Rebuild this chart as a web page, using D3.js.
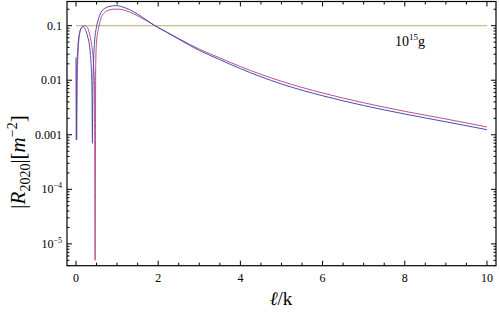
<!doctype html>
<html lang="en">
<head>
<meta charset="UTF-8">
<title>|R2020| vs l/k</title>
<script src="https://cdn.jsdelivr.net/npm/d3@7"></script>
<style>
  body { margin: 0; background: #fff; }
  text { font-family: "Liberation Serif", "DejaVu Serif", serif; fill: #000; }
</style>
</head>
<body>
<svg id="chart"></svg>
<script>
// values
const blueL   = [0, 0.008, 0.02, 0.05, 0.09, 0.13, 0.16, 0.2, 0.25, 0.29, 0.32, 0.35, 0.375, 0.39, 0.40, 0.41, 0.43, 0.45, 0.5, 0.55, 0.6, 0.7, 0.8, 0.97, 1.2, 1.4, 1.6, 1.92, 2.2, 2.5, 2.77, 3, 3.5, 4, 5, 6, 7, 8, 9, 10];
const blueV   = [0.026, 0.0008, 0.015, 0.045, 0.075, 0.092, 0.096, 0.092, 0.077, 0.06, 0.048, 0.03, 0.015, 0.006, 0.0007, 0.006, 0.025, 0.048, 0.095, 0.135, 0.17, 0.207, 0.224, 0.233, 0.212, 0.18, 0.145, 0.1, 0.076, 0.0565, 0.0435, 0.0352, 0.0238, 0.0163, 0.00853, 0.00519, 0.00344, 0.0024, 0.00173, 0.00124];
const pinkL   = [0.02, 0.03, 0.05, 0.08, 0.13, 0.2, 0.25, 0.3, 0.35, 0.39, 0.43, 0.45, 0.465, 0.48, 0.5, 0.55, 0.6, 0.7, 0.8, 0.9, 1.03, 1.2, 1.4, 1.6, 1.92, 2.2, 2.5, 2.77, 3, 3.5, 4, 5, 6, 7, 8, 9, 10];
const pinkV   = [0.0008, 0.01, 0.03, 0.065, 0.09, 0.1, 0.097, 0.085, 0.06, 0.04, 0.018, 0.008, 0.000005, 0.02, 0.05, 0.09, 0.13, 0.175, 0.193, 0.2, 0.201, 0.19, 0.165, 0.138, 0.1, 0.077, 0.058, 0.0452, 0.0372, 0.0256, 0.0178, 0.00955, 0.00583, 0.00386, 0.00269, 0.00195, 0.00139];
const refLevel = 0.1;
const refRange = [0, 10];
const xTicks = [0, 2, 4, 6, 8, 10];
const yTicks = [1e-5, 1e-4, 1e-3, 1e-2, 1e-1];
const yTickLabels = ["10", "10", "0.001", "0.01", "0.1"];
const yTickSups = ["\u22125", "\u22124", "", "", ""];

const width = 500, height = 313;
const pLeft = 67, pRight = 496, pTop = 1.5, pBottom = 265.7;

const svg = d3.select("#chart").attr("width", width).attr("height", height);

const x = d3.scaleLinear().domain([-0.219, 10.22]).range([pLeft, pRight]);
const y = d3.scaleLog().domain([Math.pow(10, -5.40), Math.pow(10, -0.557)]).range([pBottom, pTop]);

const plot = svg.append("g");

// reference line at 0.1
plot.append("line")
    .attr("x1", x(refRange[0])).attr("x2", x(refRange[1]))
    .attr("y1", y(refLevel)).attr("y2", y(refLevel))
    .attr("stroke", "#c8bb8c").attr("stroke-width", 1.3);

const line = d3.line()
    .x(d => x(d[0]))
    .y(d => y(d[1]))
    .curve(d3.curveMonotoneX);

plot.append("path")
    .datum(pinkL.map((l, i) => [l, pinkV[i]]))
    .attr("d", line)
    .attr("fill", "none").attr("stroke", "#b8508c").attr("stroke-width", 1);

plot.append("path")
    .datum(blueL.map((l, i) => [l, blueV[i]]))
    .attr("d", line)
    .attr("fill", "none").attr("stroke", "#4a4aae").attr("stroke-width", 1);

// frame
svg.append("rect")
    .attr("x", pLeft).attr("y", pTop)
    .attr("width", pRight - pLeft).attr("height", pBottom - pTop)
    .attr("fill", "none").attr("stroke", "#000").attr("stroke-width", 1.2);

// x ticks, pointing inwards on bottom and top
const xMinor = d3.range(0, 10.01, 0.5).filter(v => xTicks.indexOf(v) < 0);
const tk = svg.append("g").attr("stroke", "#000").attr("stroke-width", 1);
xTicks.forEach(v => {
  tk.append("line").attr("x1", x(v)).attr("x2", x(v)).attr("y1", pBottom).attr("y2", pBottom - 5);
  tk.append("line").attr("x1", x(v)).attr("x2", x(v)).attr("y1", pTop).attr("y2", pTop + 5);
});
xMinor.forEach(v => {
  tk.append("line").attr("x1", x(v)).attr("x2", x(v)).attr("y1", pBottom).attr("y2", pBottom - 3);
  tk.append("line").attr("x1", x(v)).attr("x2", x(v)).attr("y1", pTop).attr("y2", pTop + 3);
});

// y ticks, log minor ticks
const yMinor = [];
for (let e = -6; e <= 0; e++) {
  for (let m = 2; m <= 9; m++) {
    const v = m * Math.pow(10, e);
    if (v >= y.domain()[0] && v <= y.domain()[1]) yMinor.push(v);
  }
}
yTicks.forEach(v => {
  tk.append("line").attr("x1", pLeft).attr("x2", pLeft + 5).attr("y1", y(v)).attr("y2", y(v));
  tk.append("line").attr("x1", pRight).attr("x2", pRight - 5).attr("y1", y(v)).attr("y2", y(v));
});
yMinor.forEach(v => {
  tk.append("line").attr("x1", pLeft).attr("x2", pLeft + 2.5).attr("y1", y(v)).attr("y2", y(v));
  tk.append("line").attr("x1", pRight).attr("x2", pRight - 2.5).attr("y1", y(v)).attr("y2", y(v));
});

// tick labels
svg.append("g").selectAll("text")
    .data(xTicks).enter().append("text")
    .attr("x", d => x(d)).attr("y", 282)
    .attr("text-anchor", "middle").attr("font-size", 12)
    .text(d => d);

const yl = svg.append("g").selectAll("text")
    .data(yTicks).enter().append("text")
    .attr("x", pLeft - 5).attr("y", d => y(d) + 4)
    .attr("text-anchor", "end").attr("font-size", 12);
yl.append("tspan").text((d, i) => yTickLabels[i]);
yl.append("tspan").attr("dy", -5).attr("font-size", 8).text((d, i) => yTickSups[i]);

// curve label
const lab = svg.append("text").attr("x", 395).attr("y", 46).attr("font-size", 14);
lab.append("tspan").text("10");
lab.append("tspan").attr("dy", -6).attr("font-size", 9).text("15");
lab.append("tspan").attr("dy", 6).text("g");

// axis titles
const xt = svg.append("text").attr("x", 281).attr("y", 305)
    .attr("text-anchor", "middle").attr("font-size", 19);
xt.append("tspan").attr("font-style", "italic").text("\u2113");
xt.append("tspan").text("/k");

const yt = svg.append("text")
    .attr("transform", "translate(25,162) rotate(-90)")
    .attr("text-anchor", "middle").attr("font-size", 21);
yt.append("tspan").text("|");
yt.append("tspan").attr("font-style", "italic").text("R");
yt.append("tspan").attr("dy", 5).attr("font-size", 14).text("2020");
yt.append("tspan").attr("dy", -5).text("|[");
yt.append("tspan").attr("font-style", "italic").text("m");
yt.append("tspan").attr("dy", -8).attr("font-size", 14).text("\u22122");
yt.append("tspan").attr("dy", 8).text("]");
</script>
</body>
</html>
